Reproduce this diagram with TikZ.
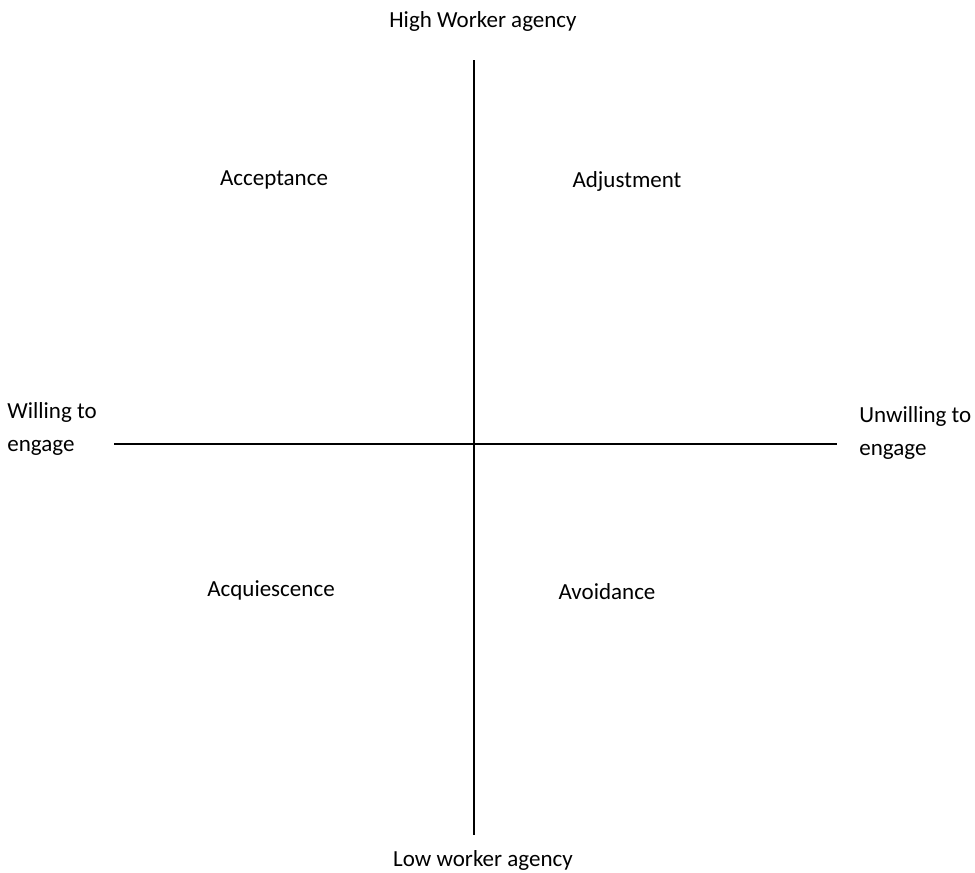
\documentclass[tikz,border=0pt]{standalone}
\usepackage{fontspec}
\setmainfont{Carlito}
\usetikzlibrary{positioning}

\begin{document}
\begin{tikzpicture}[x=0.02cm, y=-0.02cm, font=\fontsize{13.1}{18.7}\selectfont]
  \tikzstyle{quad} = [inner sep=0pt]
  \tikzstyle{axislabel} = [inner sep=0pt, align=left, anchor=west]
  \tikzstyle{axis} = [line width=0.9pt]
  \useasboundingbox (0,0) rectangle (975,873);
  % axes
  \coordinate (top) at (474,60);
  \coordinate (bottom) at (474,835);
  \coordinate (left) at (114,444);
  \coordinate (right) at (837,444);
  \draw [axis] (top) -- (bottom);
  \draw [axis] (left) -- (right);
  % axis labels
  \node [quad] (high) at (483,21) {High Worker agency};
  \node [quad] (low) at (483,860) {Low worker agency};
  \node [axislabel] (willing) at (7,429) {Willing to\\engage};
  \node [axislabel] (unwilling) at (859,433) {Unwilling to\\engage};
  % quadrants
  \node [quad] (accept) at (274,180) {Acceptance};
  \node [quad] (adjust) at (627,181) {Adjustment};
  \node [quad] (acquiesce) at (271,590) {Acquiescence};
  \node [quad] (avoid) at (607,592) {Avoidance};
\end{tikzpicture}
\end{document}
